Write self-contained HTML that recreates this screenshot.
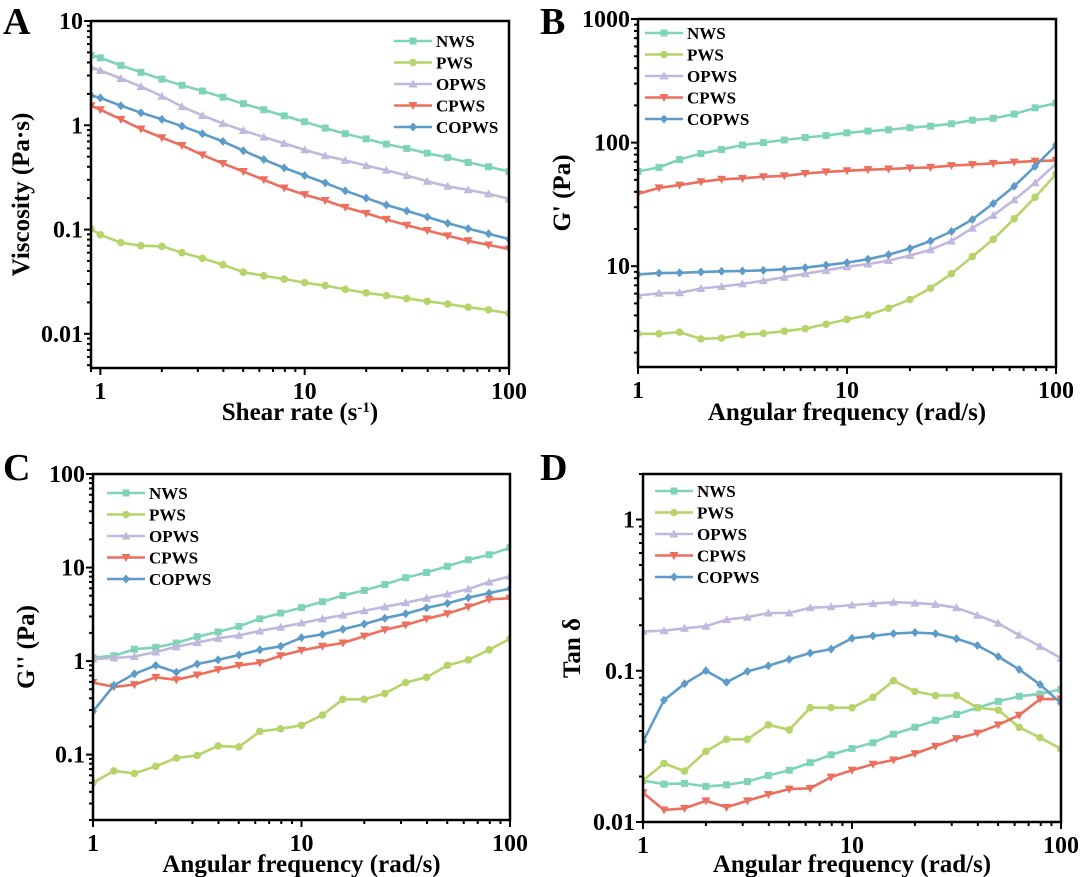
<!DOCTYPE html>
<html><head><meta charset="utf-8"><style>
html,body{margin:0;padding:0;background:#fff;}
svg{display:block;font-family:"Liberation Serif",serif;font-weight:bold;}
</style></head><body>
<svg id="fig" width="1080" height="877" viewBox="0 0 1080 877" xmlns="http://www.w3.org/2000/svg"></svg>
<script>
const seriesNames = ["NWS","PWS","OPWS","CPWS","COPWS"];
const xFreq = [1,1.26,1.58,2,2.51,3.16,3.98,5.01,6.31,7.94,10,12.6,15.8,20,25.1,31.6,39.8,50.1,63.1,79.4,100];
const xShear = [0.9,1,1.26,1.58,2,2.51,3.16,3.98,5.01,6.31,7.94,10,12.6,15.8,20,25.1,31.6,39.8,50.1,63.1,79.4,100];
// Panel A viscosity
const aNWS = [4.7,4.43,3.75,3.22,2.77,2.42,2.13,1.86,1.61,1.41,1.23,1.08,0.94,0.83,0.74,0.66,0.60,0.54,0.49,0.44,0.40,0.36];
const aPWS = [0.102,0.089,0.075,0.070,0.069,0.060,0.053,0.046,0.039,0.036,0.0335,0.031,0.029,0.0267,0.0247,0.0233,0.0218,0.0205,0.0193,0.018,0.017,0.0157];
const aOPWS = [3.61,3.35,2.81,2.35,1.90,1.51,1.24,1.04,0.89,0.77,0.67,0.58,0.51,0.46,0.41,0.37,0.33,0.29,0.26,0.24,0.22,0.197];
const aCPWS = [1.54,1.41,1.14,0.92,0.76,0.64,0.52,0.43,0.36,0.30,0.25,0.216,0.19,0.163,0.143,0.125,0.11,0.098,0.087,0.078,0.071,0.065];
const aCOPWS = [1.93,1.83,1.54,1.32,1.14,0.98,0.83,0.70,0.57,0.47,0.39,0.33,0.28,0.235,0.20,0.172,0.151,0.132,0.115,0.102,0.091,0.081];
// Panel B G'
const bNWS = [58.5,63,73,81.5,88,95.6,100,105,110,114,120,124,127,132,136,142,152,157,170,191,208];
const bPWS = [2.84,2.84,2.93,2.58,2.62,2.79,2.86,2.98,3.12,3.4,3.71,4.03,4.58,5.38,6.64,8.69,11.96,16.5,24.2,36.2,55.5];
const bOPWS = [5.8,6.04,6.1,6.6,6.86,7.2,7.64,8.15,8.7,9.26,9.9,10.4,11.1,12.2,13.6,16,20.3,25.8,34.4,47.3,67.3];
const bCPWS = [38.5,43,45.3,48.2,50.5,51.4,53,53.8,56.2,58,59.2,60.4,61.1,62.3,63,65.2,66.4,68,69.5,70.8,71.8];
const bCOPWS = [8.58,8.8,8.85,8.97,9.1,9.15,9.26,9.44,9.75,10.2,10.7,11.4,12.4,13.9,16,19.1,23.9,32.2,44.4,64.3,95.6];
// Panel C G''
const cNWS = [1.09,1.14,1.34,1.40,1.56,1.82,2.05,2.35,2.83,3.26,3.73,4.31,5.02,5.7,6.58,7.79,8.85,10.3,12.1,13.7,16.3];
const cPWS = [0.050,0.067,0.063,0.075,0.092,0.098,0.124,0.121,0.177,0.189,0.206,0.265,0.39,0.39,0.45,0.59,0.67,0.90,1.03,1.32,1.73];
const cOPWS = [1.05,1.08,1.12,1.25,1.42,1.58,1.75,1.88,2.1,2.3,2.55,2.83,3.1,3.45,3.8,4.2,4.7,5.2,5.9,7.0,8.1];
const cCPWS = [0.59,0.53,0.56,0.67,0.63,0.71,0.81,0.90,0.96,1.14,1.30,1.44,1.56,1.85,2.16,2.43,2.83,3.21,3.80,4.58,4.69];
const cCOPWS = [0.29,0.55,0.73,0.90,0.76,0.93,1.03,1.16,1.32,1.44,1.78,1.93,2.19,2.49,2.87,3.21,3.70,4.14,4.77,5.33,5.95];
// Panel D tan delta
const dNWS = [0.0188,0.0178,0.0180,0.0172,0.0176,0.0185,0.0203,0.022,0.0247,0.0278,0.0306,0.0334,0.0381,0.0423,0.047,0.0514,0.057,0.0627,0.0678,0.0703,0.0753];
const dPWS = [0.0188,0.0244,0.0217,0.0293,0.0352,0.0352,0.0439,0.0407,0.057,0.057,0.057,0.0668,0.086,0.073,0.0686,0.0686,0.057,0.055,0.0423,0.0361,0.0304];
const dOPWS = [0.182,0.184,0.191,0.197,0.218,0.226,0.241,0.241,0.261,0.265,0.272,0.278,0.284,0.28,0.275,0.261,0.233,0.206,0.172,0.145,0.121];
const dCPWS = [0.0156,0.012,0.0123,0.0138,0.0125,0.0138,0.0152,0.0165,0.0167,0.0198,0.022,0.0241,0.0257,0.0283,0.0317,0.0356,0.0387,0.0439,0.0508,0.065,0.065];
const dCOPWS = [0.034,0.064,0.082,0.100,0.084,0.099,0.108,0.119,0.131,0.139,0.164,0.17,0.176,0.179,0.176,0.163,0.147,0.124,0.102,0.081,0.061];
const aYTicks = ["10","1","0.1","0.01"];
const bYTicks = ["1000","100","10"];
const cYTicks = ["100","10","1","0.1"];
const dYTicks = ["1","0.1","0.01"];
const xTicks = ["1","10","100"];

const colors = ["#7ed3b9","#b6d46a","#c1b8de","#ec6e5d","#5d9bc8"];
const markers = ["square","circle","tri","tridown","diamond"];
const NS = "http://www.w3.org/2000/svg";
const svg = document.getElementById("fig");
function mk(tag, attrs, parent){const e=document.createElementNS(NS,tag);for(const k in attrs)e.setAttribute(k,attrs[k]);(parent||svg).appendChild(e);return e;}
function logScale(d0,d1,r0,r1){const l0=Math.log10(d0),l1=Math.log10(d1);return v=>r0+(Math.log10(v)-l0)/(l1-l0)*(r1-r0);}
function marker(g,type,x,y,c){
  let e;
  if(type==="square") e=mk("rect",{x:x-3.5,y:y-3.5,width:7,height:7,fill:c},g);
  else if(type==="circle") e=mk("circle",{cx:x,cy:y,r:3.8,fill:c},g);
  else if(type==="tri") e=mk("polygon",{points:`${x},${y-4.5} ${x-4.5},${y+3.5} ${x+4.5},${y+3.5}`,fill:c},g);
  else if(type==="tridown") e=mk("polygon",{points:`${x},${y+4.5} ${x-4.5},${y-3.5} ${x+4.5},${y-3.5}`,fill:c},g);
  else e=mk("polygon",{points:`${x},${y-4.5} ${x+4},${y} ${x},${y+4.5} ${x-4},${y}`,fill:c},g);
  return e;
}
function text(parent,x,y,s,size,anchor,extra){const t=mk("text",Object.assign({x:x,y:y,"font-size":size,"text-anchor":anchor||"middle",fill:"#000"},extra||{}),parent);t.textContent=s;return t;}

function panel(o){
  const g=mk("g",{});
  
  
  const xs=logScale(o.xmin,o.xmax,o.L,o.R), ys=logScale(o.ymin,o.ymax,o.B,o.T);
  const lab=text(g,o.labX,o.labY,o.id,38,"start");
  
  
  const cp=mk("clipPath",{id:"clip"+o.id},g);
  mk("rect",{x:o.L,y:o.T,width:o.R-o.L,height:o.B-o.T},cp);
  o.series.forEach((vals,si)=>{
    const sg=mk("g",{"clip-path":`url(#clip${o.id})`},g);
    
    
    const pts=vals.map((v,i)=>xs(o.x[i]).toFixed(1)+","+ys(v).toFixed(1)).join(" ");
    mk("polyline",{points:pts,fill:"none",stroke:colors[si],"stroke-width":2.6,"stroke-linejoin":"round"},sg);
    vals.forEach((v,i)=>{const m=marker(sg,markers[si],xs(o.x[i]),ys(v),colors[si]);
      
      });
  });
  const fr=mk("rect",{x:o.L,y:o.T,width:o.R-o.L,height:o.B-o.T,fill:"none",stroke:"#000","stroke-width":2.5},g);
  
  
  const yt=mk("g",{},g);
  
  
  for(let e=Math.floor(Math.log10(o.ymin));e<=Math.ceil(Math.log10(o.ymax));e++){
    for(let k=1;k<10;k++){const v=k*Math.pow(10,e);if(v<o.ymin*0.999||v>o.ymax*1.001)continue;
      const y=ys(v);mk("line",{x1:o.L,x2:o.L-(k===1?7:4),y1:y,y2:y,stroke:"#000","stroke-width":2},yt);}
  }
  o.yTicks.forEach(s=>{const t=text(yt,o.L-8,ys(parseFloat(s))+8,s,24,"end");
    
    });
  const xt=mk("g",{},g);
  
  
  for(let e=Math.floor(Math.log10(o.xmin));e<=Math.ceil(Math.log10(o.xmax));e++){
    for(let k=1;k<10;k++){const v=k*Math.pow(10,e);if(v<o.xmin*0.999||v>o.xmax*1.001)continue;
      const x=xs(v);mk("line",{x1:x,x2:x,y1:o.B,y2:o.B+(k===1?7:4),stroke:"#000","stroke-width":2},xt);}
  }
  xTicks.forEach(s=>{const t=text(xt,xs(parseFloat(s)),o.B+31,s,24,"middle");
    
    });
  const xl=text(g,(o.L+o.R)/2,o.xlY,o.xlabel,25,"middle");
  if(o.sup){const sp=mk("tspan",{"baseline-shift":"super","font-size":15},xl);sp.textContent=o.sup;
    const t2=mk("tspan",{},xl);t2.textContent=")";}
  
  
  const yl=text(g,0,0,o.ylabel,25,"middle",{transform:`translate(${o.ylX},${(o.T+o.B)/2}) rotate(-90)`});
  
  
  const lg=mk("g",{},g);
  
  
  seriesNames.forEach((n,i)=>{
    const y=o.legY+i*21.5;
    const le=mk("g",{},lg);
    
    
    mk("line",{x1:o.legX,x2:o.legX+38,y1:y,y2:y,stroke:colors[i],"stroke-width":2.6},le);
    marker(le,markers[i],o.legX+19,y,colors[i]);
    text(le,o.legX+42,y+6,n,17,"start");
  });
}
panel({id:"A",L:91,R:509,T:21,B:368,xmin:0.9,xmax:100,ymin:0.0047,ymax:10,x:xShear,
  series:[aNWS,aPWS,aOPWS,aCPWS,aCOPWS],yTicks:aYTicks,labX:3,labY:34,
  xlabel:"Shear rate (s",sup:"-1",xlY:420,ylabel:"Viscosity (Pa\u00B7s)",ylX:29,legX:394,legY:41});
panel({id:"B",L:638,R:1056,T:19,B:367,xmin:1,xmax:100,ymin:1.53,ymax:1000,x:xFreq,
  series:[bNWS,bPWS,bOPWS,bCPWS,bCOPWS],yTicks:bYTicks,labX:540,labY:34,
  xlabel:"Angular frequency (rad/s)",xlY:420,ylabel:"G' (Pa)",ylX:570,legX:645,legY:33});
panel({id:"C",L:93,R:510,T:474,B:820,xmin:1,xmax:100,ymin:0.02,ymax:100,x:xFreq,
  series:[cNWS,cPWS,cOPWS,cCPWS,cCOPWS],yTicks:cYTicks,labX:3,labY:480,
  xlabel:"Angular frequency (rad/s)",xlY:872,ylabel:"G'' (Pa)",ylX:34,legX:107,legY:493});
panel({id:"D",L:643,R:1061,T:474,B:822,xmin:1,xmax:100,ymin:0.01,ymax:2.0,x:xFreq,
  series:[dNWS,dPWS,dOPWS,dCPWS,dCOPWS],yTicks:dYTicks,labX:540,labY:480,
  xlabel:"Angular frequency (rad/s)",xlY:872,ylabel:"Tan \u03B4",ylX:580,legX:655,legY:491});
</script>
</body></html>
